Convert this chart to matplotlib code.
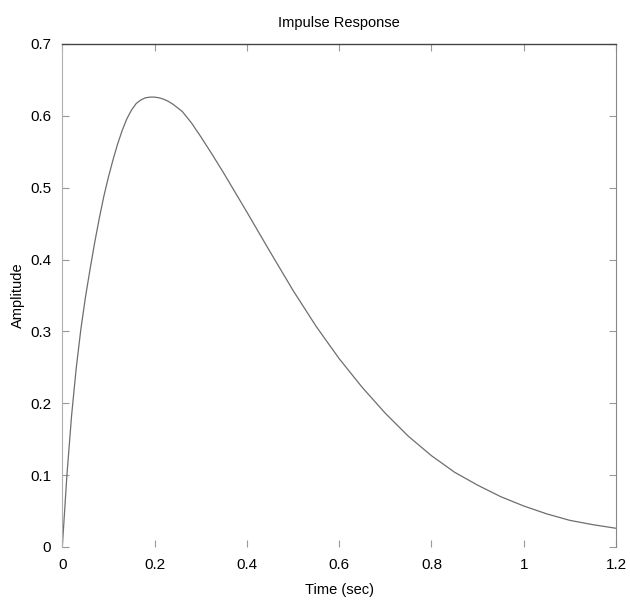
import matplotlib
matplotlib.use("Agg")
import matplotlib.pyplot as plt
from matplotlib import font_manager

# Impulse response
time_sec = [0.0, 0.01, 0.02, 0.03, 0.04, 0.05, 0.06, 0.07, 0.08, 0.09,
            0.10, 0.11, 0.12, 0.13, 0.14, 0.15, 0.16, 0.17, 0.18, 0.19,
            0.20, 0.21, 0.22, 0.23, 0.24, 0.26, 0.28, 0.30, 0.325, 0.35,
            0.40, 0.45, 0.50, 0.55, 0.60, 0.65, 0.70, 0.75, 0.80, 0.85,
            0.90, 0.95, 1.00, 1.05, 1.10, 1.15, 1.20]
amplitude = [0.0, 0.100, 0.182, 0.248, 0.302, 0.347, 0.386, 0.423, 0.457, 0.488,
             0.515, 0.539, 0.561, 0.580, 0.596, 0.608, 0.617, 0.622, 0.625, 0.626,
             0.626, 0.625, 0.623, 0.620, 0.616, 0.606, 0.590, 0.571, 0.546, 0.520,
             0.466, 0.411, 0.357, 0.307, 0.262, 0.222, 0.186, 0.154, 0.127, 0.104,
             0.086, 0.070, 0.057, 0.046, 0.037, 0.031, 0.026]

x_ticks = [0, 0.2, 0.4, 0.6, 0.8, 1, 1.2]
x_tick_labels = ["0", "0.2", "0.4", "0.6", "0.8", "1", "1.2"]
y_ticks = [0, 0.1, 0.2, 0.3, 0.4, 0.5, 0.6, 0.7]
y_tick_labels = ["0", "0.1", "0.2", "0.3", "0.4", "0.5", "0.6", "0.7"]

names = {f.name for f in font_manager.fontManager.ttflist}
family = "Liberation Sans Narrow" if "Liberation Sans Narrow" in names else "Liberation Sans"
plt.rcParams["font.family"] = [family, "DejaVu Sans"]

fig = plt.figure(figsize=(6.3, 6.01), dpi=100)
ax = fig.add_axes([0.0989, 0.0899, 0.879, 0.837])

ax.plot(time_sec, amplitude, color="#6e6e6e", lw=0.9)

ax.set_xlim(0, 1.2)
ax.set_ylim(0, 0.7)
ax.set_xticks(x_ticks)
ax.set_xticklabels(x_tick_labels)
ax.set_yticks(y_ticks)
ax.set_yticklabels(y_tick_labels)
ax.tick_params(direction="in", length=5, width=0.8, color="#999999",
               top=True, right=True, labelsize=11, pad=8)

ax.spines["top"].set_color("#444444")
ax.spines["top"].set_linewidth(1.0)
ax.spines["left"].set_color("#b0b0b0")
ax.spines["right"].set_color("#888888")
ax.spines["bottom"].set_visible(False)

ax.set_title("Impulse Response", fontsize=10.5, pad=12)
ax.set_xlabel("Time (sec)", fontsize=10.5, labelpad=8)
ax.set_ylabel("Amplitude", fontsize=10.5, labelpad=4)

fig.savefig("out.png", dpi=100)
